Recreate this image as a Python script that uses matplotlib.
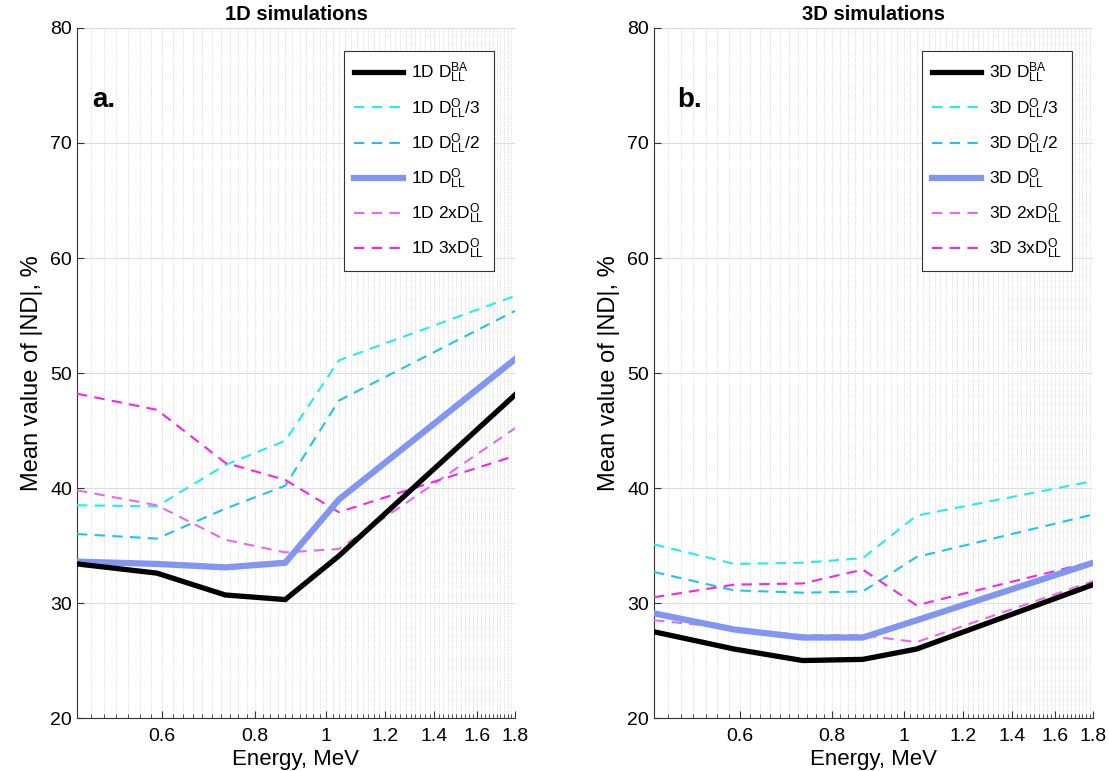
import numpy as np
import matplotlib
matplotlib.use("Agg")
import matplotlib.pyplot as plt
from matplotlib.ticker import FixedLocator, MultipleLocator, FuncFormatter

plt.rcParams['font.family'] = ['Liberation Sans', 'DejaVu Sans']
plt.rcParams['mathtext.fontset'] = 'custom'
plt.rcParams['mathtext.rm'] = 'Liberation Sans'
plt.rcParams['mathtext.it'] = 'Liberation Sans'

# energies, MeV
energy = [0.46, 0.59, 0.73, 0.88, 1.04, 1.8]

# 1D simulations, mean |ND| in %
d1_ba = [33.4, 32.6, 30.7, 30.3, 34.1, 48.1]
d1_o3 = [38.5, 38.4, 42.0, 44.1, 51.1, 56.7]
d1_o2 = [36.0, 35.6, 38.2, 40.2, 47.6, 55.4]
d1_o = [33.6, 33.4, 33.1, 33.5, 39.0, 51.2]
d1_2x = [39.8, 38.5, 35.5, 34.4, 34.7, 45.2]
d1_3x = [48.2, 46.8, 42.2, 40.7, 37.9, 42.8]

# 3D simulations
d3_ba = [27.5, 26.0, 25.0, 25.1, 26.0, 31.6]
d3_o3 = [35.1, 33.4, 33.5, 33.9, 37.6, 40.6]
d3_o2 = [32.7, 31.1, 30.9, 31.0, 34.0, 37.7]
d3_o = [29.1, 27.7, 27.0, 27.0, 28.5, 33.5]
d3_2x = [28.5, 27.8, 27.2, 27.2, 26.6, 31.9]
d3_3x = [30.5, 31.6, 31.7, 32.9, 29.8, 33.6]

xticks = [0.6, 0.8, 1, 1.2, 1.4, 1.6, 1.8]
yticks = [20, 30, 40, 50, 60, 70, 80]

c_ba = 'black'
c_o3 = '#22eef0'
c_o2 = '#1ec4ee'
c_o = '#8096f2'
c_2x = '#e868f0'
c_3x = '#f824e8'

fig = plt.figure(figsize=(11.09, 7.71), dpi=100)
ax1 = fig.add_axes([0.0694, 0.0687, 0.395, 0.895])
ax2 = fig.add_axes([0.5897, 0.0687, 0.396, 0.895])


def panel(ax, dim, series, title, letter, letter_x):
    ba, o3, o2, o, x2, x3 = series
    ax.plot(energy, ba, color=c_ba, lw=3.8, solid_joinstyle='miter',
            label=dim + r' $\mathrm{D^{BA}_{LL}}$', zorder=5)
    ax.plot(energy, o3, color=c_o3, lw=1.5, dashes=(5, 3.5),
            label=dim + r' $\mathrm{D^{O}_{LL}}$/3', zorder=3)
    ax.plot(energy, o2, color=c_o2, lw=1.5, dashes=(5, 3.5),
            label=dim + r' $\mathrm{D^{O}_{LL}}$/2', zorder=3)
    ax.plot(energy, o, color=c_o, lw=4.5,
            label=dim + r' $\mathrm{D^{O}_{LL}}$', zorder=4)
    ax.plot(energy, x2, color=c_2x, lw=1.5, dashes=(5, 3.5),
            label=dim + r' 2x$\mathrm{D^{O}_{LL}}$', zorder=3)
    ax.plot(energy, x3, color=c_3x, lw=1.5, dashes=(5, 3.5),
            label=dim + r' 3x$\mathrm{D^{O}_{LL}}$', zorder=3)

    ax.set_xscale('log')
    ax.set_xlim(0.46, 1.8)
    ax.set_ylim(20, 80)
    ax.xaxis.set_major_locator(FixedLocator(xticks))
    ax.xaxis.set_major_formatter(FuncFormatter(lambda v, p: '%g' % v))
    ax.xaxis.set_minor_locator(MultipleLocator(0.02))
    ax.xaxis.set_minor_formatter(FuncFormatter(lambda v, p: ''))
    ax.set_yticks(yticks)

    ax.grid(True, which='major', axis='y', color='#dddddd', lw=0.8)
    ax.grid(True, which='major', axis='x', color='#cccccc', lw=0.6, ls=':')
    ax.grid(True, which='minor', axis='x', color='#cccccc', lw=0.6, ls=':')
    ax.set_axisbelow(True)

    for s in ['top', 'right']:
        ax.spines[s].set_visible(False)
    for s in ['left', 'bottom']:
        ax.spines[s].set_color('#333333')
        ax.spines[s].set_linewidth(0.8)
    ax.tick_params(which='both', direction='in', labelsize=14, colors='#333333',
                   labelcolor='black')
    ax.tick_params(which='major', length=5)
    ax.tick_params(which='minor', length=3)
    ax.tick_params(axis='x', pad=7)

    ax.set_title(title, fontsize=14.5, fontweight='bold', pad=6)
    ax.set_xlabel('Energy, MeV', fontsize=16, labelpad=3)
    ax.set_ylabel('Mean value of |ND|, %', fontsize=17, labelpad=5)
    ax.text(letter_x, 0.895, letter, transform=ax.transAxes, fontsize=20,
            fontweight='bold', va='center')

    leg = ax.legend(loc='upper right', bbox_to_anchor=(0.952, 0.966), fontsize=12.5,
                    frameon=True, fancybox=False, handlelength=2.8,
                    labelspacing=0.62, borderpad=0.55, handletextpad=0.5,
                    borderaxespad=0)
    leg.get_frame().set_edgecolor('#333333')
    leg.get_frame().set_linewidth(0.8)
    leg.get_frame().set_alpha(1)


panel(ax1, '1D', [d1_ba, d1_o3, d1_o2, d1_o, d1_2x, d1_3x], '1D simulations', 'a.', 0.035)
panel(ax2, '3D', [d3_ba, d3_o3, d3_o2, d3_o, d3_2x, d3_3x], '3D simulations', 'b.', 0.052)

fig.savefig('out.png', dpi=100)
